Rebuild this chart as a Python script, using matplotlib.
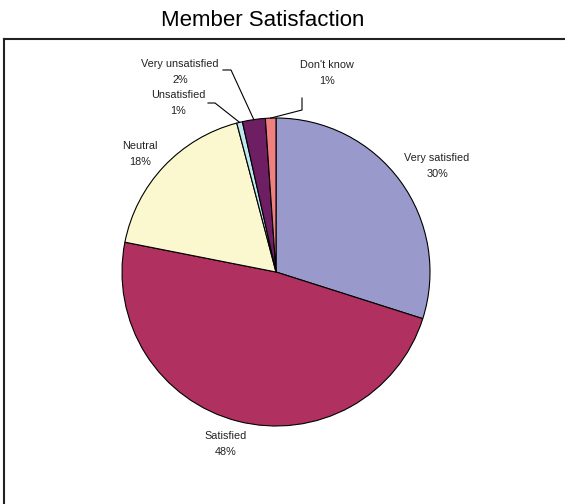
import numpy as np
import matplotlib.pyplot as plt
from matplotlib.lines import Line2D

plt.rcParams['font.family'] = ['Liberation Sans', 'DejaVu Sans']

# data
labels = ["Very satisfied", "Satisfied", "Neutral", "Unsatisfied",
          "Very unsatisfied", "Don't know"]
values = [29.9, 48.2, 17.8, 0.6, 2.4, 1.1]
colors = ["#9999cc", "#b03060", "#fbf8cf", "#bfe8f0", "#6e1e62", "#f08080"]

W, H = 565, 504
CX, CY, R = 276, 272, 154   # pie centre / radius in pixels


def px(x, y):
    # pixel position -> data coordinates
    return (x - CX) / R, (CY - y) / R


fig = plt.figure(figsize=(W / 100, H / 100), dpi=100)
ax = fig.add_axes([0, 0, 1, 1])
wedges, _ = ax.pie(values, colors=colors, startangle=90, counterclock=False,
                   radius=1, wedgeprops=dict(edgecolor="black", linewidth=0.8))
ax.set_xlim(-CX / R, (W - CX) / R)
ax.set_ylim(-(H - CY) / R, CY / R)
ax.set_aspect("equal")
ax.axis("off")

# label positions (centre of text block, pixels)
label_pos = [(437, 166), (226, 444), (140, 154), (178, 103), (180, 72), (327, 73)]
for name, v, (x, y) in zip(labels, values, label_pos):
    ax.text(*px(x, y), f"{name}\n{v:.0f}%", ha="center", va="center",
            fontsize=7.8, linespacing=1.75, color="#222222")


def edge(w, r=1.0):
    a = np.deg2rad((w.theta1 + w.theta2) / 2)
    return r * np.cos(a), r * np.sin(a)


# leader lines for the small slices
leaders = {3: [(208, 103), (215, 103)], 4: [(223, 70), (231, 70)],
           5: [(302, 98), (302, 110)]}
for i, pts in leaders.items():
    xs, ys = zip(*[px(*p) for p in pts])
    ex, ey = edge(wedges[i])
    ax.plot(list(xs) + [ex], list(ys) + [ey], color="black", linewidth=0.8)

fig.text(263 / W, 1 - 20 / H, "Member Satisfaction", ha="center", va="center",
         fontsize=16)

# chart frame (cropped on the right and bottom)
fig.add_artist(Line2D([4 / W, 1], [1 - 39 / H] * 2, color="#222222", linewidth=1.5))
fig.add_artist(Line2D([4 / W] * 2, [0, 1 - 39 / H], color="#222222", linewidth=1.5))

fig.savefig("out.png", dpi=100)
